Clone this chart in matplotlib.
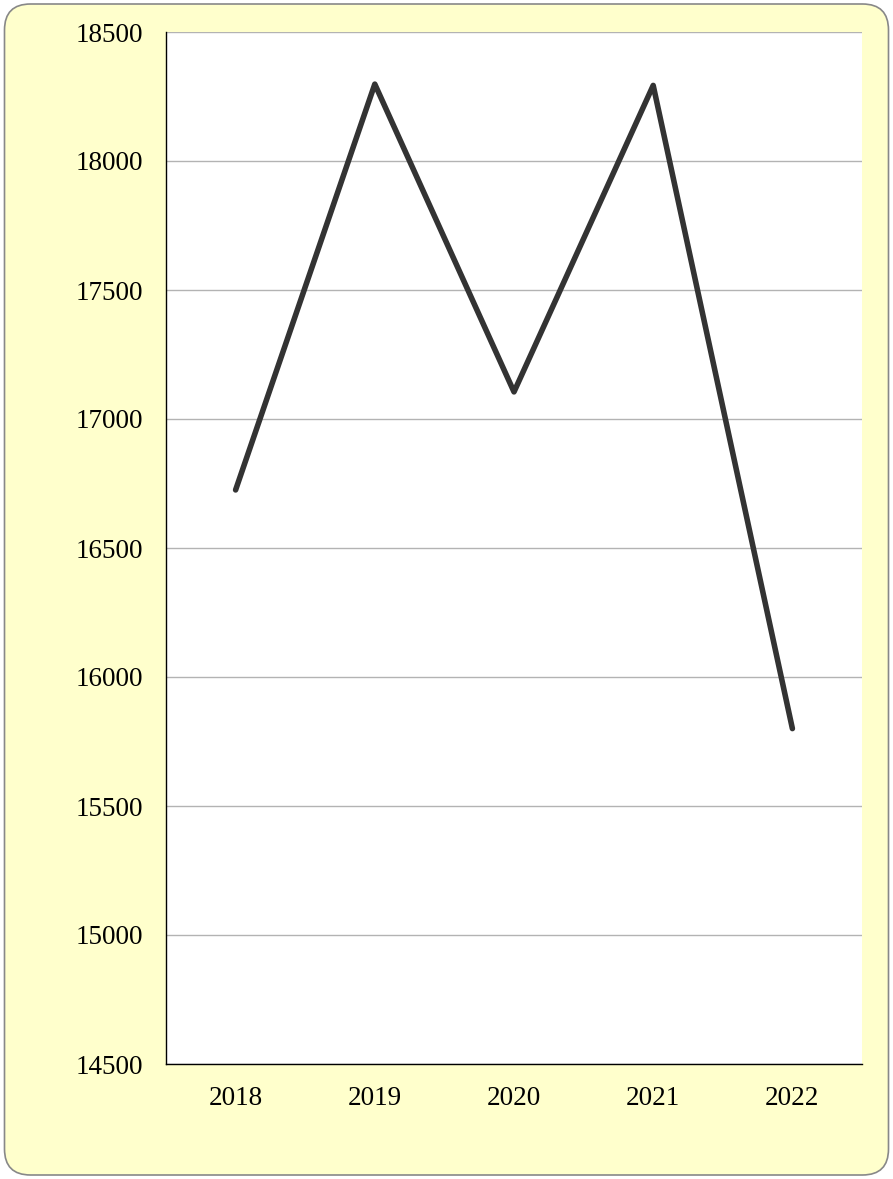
import matplotlib.pyplot as plt
from matplotlib.patches import FancyBboxPatch

years = ['2018', '2019', '2020', '2021', '2022']
values = [16725, 18298, 17105, 18293, 15800]
y_ticks = [14500, 15000, 15500, 16000, 16500, 17000, 17500, 18000, 18500]

plt.rcParams['font.family'] = ['Liberation Serif', 'DejaVu Serif']

W, H = 893, 1179
fig = plt.figure(figsize=(W / 100, H / 100), dpi=100)
fig.patch.set_facecolor('white')

# rounded yellow panel behind the chart (pixel coordinates)
panel = FancyBboxPatch((4.5, 4), 884, 1171,
                       boxstyle='round,pad=0,rounding_size=26',
                       transform=None, facecolor='#ffffcc',
                       edgecolor='#888888', linewidth=1.2, zorder=-1)
fig.patches.append(panel)

ax = fig.add_axes([166 / W, 1 - 1064 / H, 696 / W, 1032 / H])
ax.set_facecolor('white')
ax.plot(range(len(years)), values, color='#333333', linewidth=4,
        solid_capstyle='round', solid_joinstyle='round', zorder=3)

ax.set_xlim(-0.5, len(years) - 0.5)
ax.set_ylim(14500, 18500)
ax.set_xticks(range(len(years)))
ax.set_xticklabels(years)
ax.set_yticks(y_ticks)
ax.grid(axis='y', color='#b3b3b3', linewidth=1)
ax.set_axisbelow(True)
ax.tick_params(length=0, labelsize=19.5, colors='black')
ax.tick_params(axis='y', pad=16.5)
ax.tick_params(axis='x', pad=16)
for side in ['top', 'right']:
    ax.spines[side].set_visible(False)
for side in ['left', 'bottom']:
    ax.spines[side].set_color('black')
    ax.spines[side].set_linewidth(1)

fig.savefig('out.png', dpi=100)
